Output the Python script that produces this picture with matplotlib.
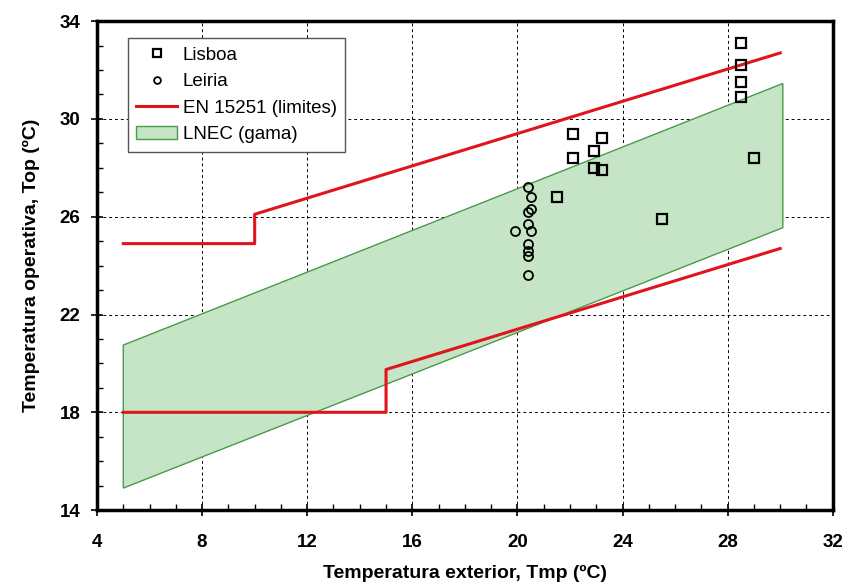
import numpy as np
import matplotlib
matplotlib.use('Agg')
import matplotlib.pyplot as plt
from matplotlib.ticker import MultipleLocator

# Lisboa measurements
lis_x = [22.1, 23.2, 22.9, 22.1, 22.9, 23.2, 21.5, 25.5, 28.5, 28.5, 28.5, 28.5, 29.0]
lis_y = [29.4, 29.2, 28.7, 28.4, 28.0, 27.9, 26.8, 25.9, 33.1, 32.2, 31.5, 30.9, 28.4]

# Leiria measurements
lei_x = [20.4, 20.5, 20.5, 20.4, 20.4, 20.5, 19.9, 20.4, 20.4, 20.4, 20.4]
lei_y = [27.2, 26.8, 26.3, 26.2, 25.7, 25.4, 25.4, 24.9, 24.6, 24.4, 23.6]

# EN 15251 limits
en_up_x = [5, 10, 10, 30]
en_up_y = [24.9, 24.9, 26.1, 32.7]
en_lo_x = [5, 15, 15, 30]
en_lo_y = [18.0, 18.0, 19.75, 24.7]

# LNEC range (polygon)
lnec_x = [5, 30.1, 30.1, 5]
lnec_y = [20.75, 31.45, 25.55, 14.9]

xticks = [4, 8, 12, 16, 20, 24, 28, 32]
yticks = [14, 18, 22, 26, 30, 34]

plt.rcParams['font.family'] = ['Liberation Sans', 'DejaVu Sans']

fig = plt.figure(figsize=(8.48, 5.87), dpi=100)
ax = fig.add_axes([0.1144, 0.131, 0.8676, 0.833])

ax.fill(lnec_x, lnec_y, facecolor='#c6e5c6', edgecolor='#4a9a4a', lw=1.0,
        label='LNEC (gama)', zorder=2)
ax.plot(en_up_x, en_up_y, color='#e0141c', lw=2.2, label='EN 15251 (limites)', zorder=3)
ax.plot(en_lo_x, en_lo_y, color='#e0141c', lw=2.2, zorder=3)
ax.plot(lis_x, lis_y, 's', ms=7, mfc='none', mec='black', mew=1.6, ls='none',
        label='Lisboa', zorder=4)
ax.plot(lei_x, lei_y, 'o', ms=6.5, mfc='none', mec='black', mew=1.3, ls='none',
        label='Leiria', zorder=4)

ax.set_xlim(4, 32)
ax.set_ylim(14, 34)
ax.set_xticks(xticks)
ax.set_yticks(yticks)
ax.xaxis.set_minor_locator(MultipleLocator(1))
ax.yaxis.set_minor_locator(MultipleLocator(1))
ax.tick_params(which='major', direction='inout', length=8, width=1.2, labelsize=13.5, pad=8)
ax.tick_params(axis='x', which='major', pad=13)
ax.tick_params(which='minor', direction='in', length=4, width=1.0)
for lab in ax.get_xticklabels() + ax.get_yticklabels():
    lab.set_fontweight('bold')
ax.grid(True, which='major', ls=(0, (3, 3)), color='black', lw=0.7)
for s in ax.spines.values():
    s.set_linewidth(2.5)

ax.set_xlabel('Temperatura exterior, Tmp (ºC)', fontsize=14, fontweight='bold', labelpad=10)
ax.set_ylabel('Temperatura operativa, Top (ºC)', fontsize=14, fontweight='bold', labelpad=14)

h, l = ax.get_legend_handles_labels()
order = [2, 3, 1, 0]
leg = ax.legend([h[i] for i in order], [l[i] for i in order], loc='upper left',
                bbox_to_anchor=(0.034, 0.977), fontsize=13.5, fancybox=False,
                edgecolor='#555555', framealpha=1, handlelength=2.2, borderpad=0.45,
                labelspacing=0.5, markerscale=0.75, handletextpad=0.3,
                borderaxespad=0.3)
leg.get_frame().set_linewidth(1.0)

plt.savefig('out.png', dpi=100)
